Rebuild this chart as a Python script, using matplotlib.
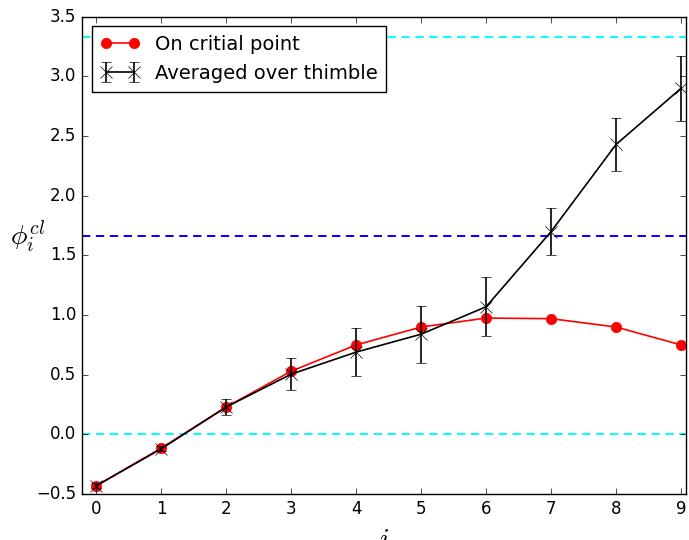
import matplotlib
matplotlib.use("Agg")
import matplotlib.pyplot as plt

plt.style.use("classic")

idx = [0, 1, 2, 3, 4, 5, 6, 7, 8, 9]
phi_crit = [-0.43, -0.115, 0.23, 0.53, 0.75, 0.90, 0.975, 0.97, 0.90, 0.75]
phi_avg = [-0.43, -0.12, 0.23, 0.505, 0.69, 0.84, 1.07, 1.70, 2.43, 2.90]
phi_err = [0.02, 0.02, 0.065, 0.135, 0.20, 0.24, 0.245, 0.20, 0.22, 0.27]

cyan_levels = [0.0, 10.0 / 3.0]
blue_levels = [5.0 / 3.0]

fig = plt.figure(figsize=(6.89, 5.4), dpi=100)
fig.patch.set_facecolor("white")
ax = fig.add_axes([0.119, 0.085, 0.877, 0.884])

# reference lines (old-style long dashes)
for lv in cyan_levels:
    ax.axhline(lv, color="cyan", ls=(0, (6, 4)), lw=1.4)
for lv in blue_levels:
    ax.axhline(lv, color="blue", ls=(0, (6, 4)), lw=1.4)

ax.plot(idx, phi_crit, "-o", color="red", mec="red", ms=7.5, lw=1.2, label="On critial point")
ax.errorbar(idx, phi_avg, yerr=phi_err, fmt="-x", color="black", ms=8, lw=1.2,
            capsize=3.5, label="Averaged over thimble")

ax.set_xlim(-0.22, 9.08)
ax.set_ylim(-0.5, 3.5)
ax.set_xticks(range(10))
ax.set_yticks([-0.5, 0.0, 0.5, 1.0, 1.5, 2.0, 2.5, 3.0, 3.5])
ax.set_xlabel("$i$", fontsize=20)
ax.set_ylabel(r"$\phi_i^{cl}$", fontsize=20, rotation=0, labelpad=6)
ax.legend(loc="upper left", fontsize=14, numpoints=2, borderpad=0.45)

plt.savefig("out.png", dpi=100, facecolor="white")
